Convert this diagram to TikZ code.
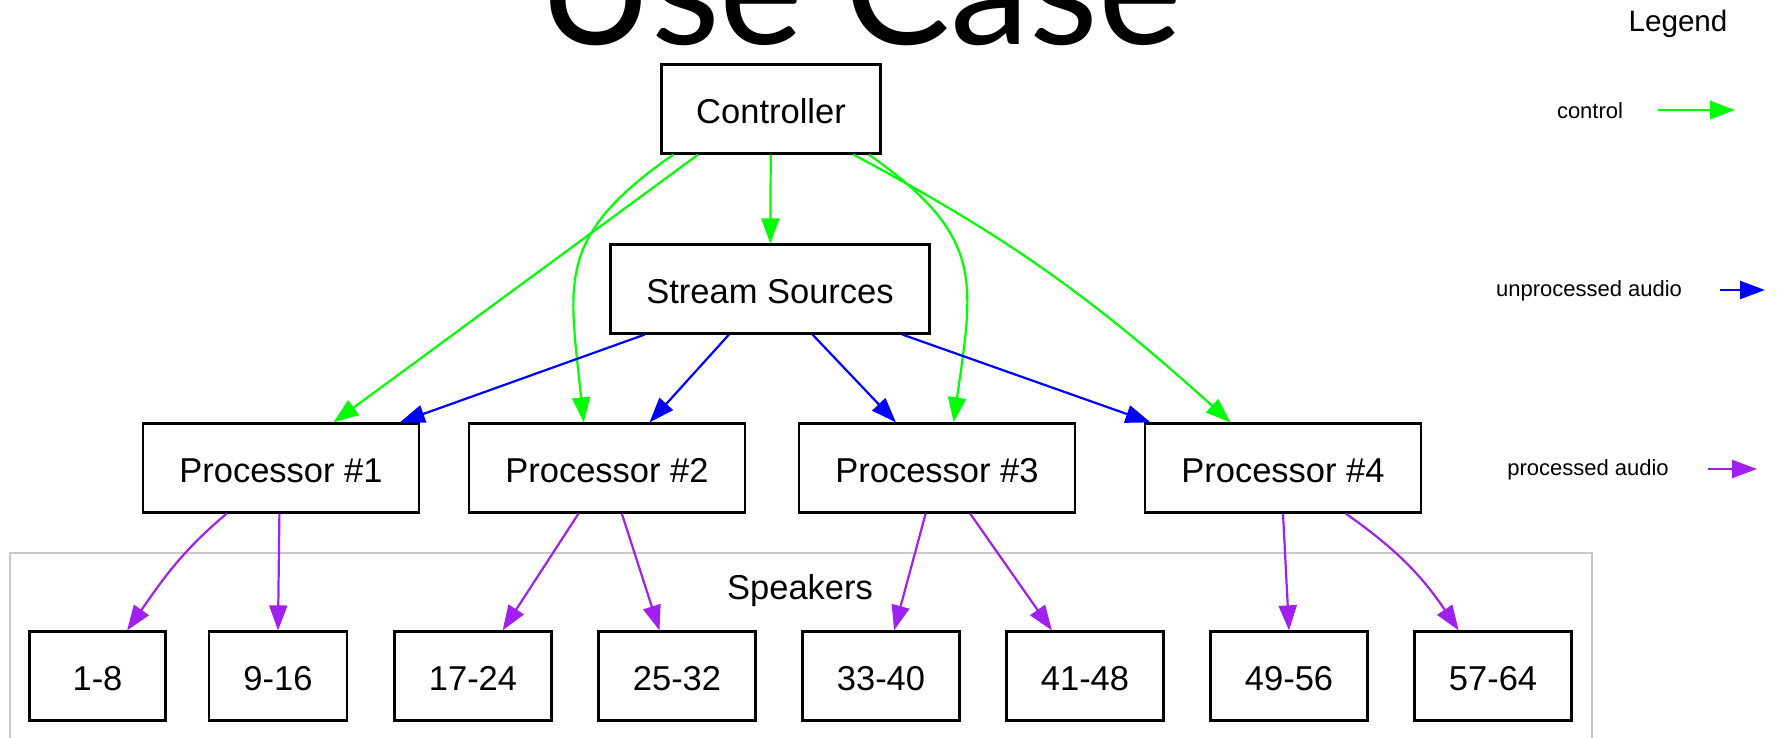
\documentclass[tikz,border=0pt]{standalone}
\usepackage{fontspec}
\setmainfont{Liberation Sans}
\newfontfamily\titlefont{Lato}
\usetikzlibrary{arrows.meta}
\definecolor{ctlgreen}{RGB}{0,255,0}
\definecolor{rawblue}{RGB}{0,0,255}
\definecolor{mixpurple}{RGB}{160,32,240}
\definecolor{clustergray}{RGB}{200,200,200}
\tikzset{
    >={Triangle[length=25pt,width=18pt]},
    usecase/.style={
        box/.append style={align=center,draw,line width=2.2pt,rectangle,inner sep=0pt,minimum height=89pt,text height=29.4pt,text depth=0pt,font=\fontsize{34.5}{40}\selectfont},
        procbox/.append style={box,minimum width=276pt},
        spkbox/.append style={box,minimum width=157pt},
        label/.append style={inner sep=0pt,text height=29.4pt,text depth=0pt,font=\fontsize{34.5}{40}\selectfont},
        legendtext/.append style={inner sep=0pt,font=\fontsize{22}{26}\selectfont},
        bigtitle/.append style={inner sep=0pt,anchor=base,font=\titlefont\fontsize{159}{165}\selectfont},
        ctledge/.append style={->,draw=ctlgreen,line width=2.2pt},
        rawedge/.append style={->,draw=rawblue,line width=2.2pt},
        mixedge/.append style={->,draw=mixpurple,line width=2.2pt},
        cluster/.append style={draw=clustergray,line width=2.3pt}
    }
}

\begin{document}
\begin{tikzpicture}[usecase,x=1pt,y=-1pt]
    \useasboundingbox (0,0) rectangle (1777,738);
    \clip (0,0) rectangle (1777,738);
    \node[bigtitle] (t) at (860,45) {Use Case};

    % sources
    \node[box,minimum width=219pt] (ctl) at (771,109) {Controller};
    \node[box,minimum width=319pt] (ss) at (770,289) {Stream Sources};

    % processors
    \node[procbox] (p1) at (281,468) {Processor \#1};
    \node[procbox] (p2) at (607,468) {Processor \#2};
    \node[procbox] (p3) at (937,468) {Processor \#3};
    \node[procbox] (p4) at (1283,468) {Processor \#4};

    % speakers
    \draw[cluster] (10,553) rectangle (1592,780);
    \node[label] (spk) at (800,585) {Speakers};
    \node[spkbox,minimum width=136pt] (s1) at (97.5,676) {1-8};
    \node[spkbox,minimum width=138pt] (s2) at (278,676) {9-16};
    \node[spkbox] (s3) at (473,676) {17-24};
    \node[spkbox] (s4) at (677,676) {25-32};
    \node[spkbox] (s5) at (881,676) {33-40};
    \node[spkbox] (s6) at (1085,676) {41-48};
    \node[spkbox] (s7) at (1289,676) {49-56};
    \node[spkbox] (s8) at (1493,676) {57-64};

    \path (ctl) edge[ctledge] (ss)
          (ctl.-148) edge[ctledge] (p1.41)
          (ctl.-155) edge[ctledge,out=-145,in=96,looseness=1.3] (p2.117)
          (ctl.-25) edge[ctledge,out=-35,in=82,looseness=1.3] (p3.70)
          (ctl.-29) edge[ctledge,out=-28,in=138] (p4.139);
    \path (ss.-160) edge[rawedge] (p1.21)
          (ss.-132) edge[rawedge] (p2.47)
          (ss.-47) edge[rawedge] (p3.132)
          (ss.-19) edge[rawedge] (p4.161);
    \path (p1.-140) edge[mixedge,out=-140,in=55] (s1.57)
          (p1.-92) edge[mixedge] (s2.north)
          (p2.-122) edge[mixedge] (s3.57)
          (p2.-72) edge[mixedge] (s4.111)
          (p3.-104) edge[mixedge] (s5.74)
          (p3.-54) edge[mixedge] (s6.126)
          (p4.south) edge[mixedge] (s7.north)
          (p4.-36) edge[mixedge,out=-35,in=124] (s8.127);

    % legend
    \node[legendtext,font=\fontsize{29.6}{34}\selectfont] (lg) at (1678,24) {Legend};
    \node[legendtext] (lctl) at (1590,111) {control};
    \node[legendtext] (lraw) at (1589,291) {unprocessed audio};
    \node[legendtext] (lmix) at (1588,470) {processed audio};
    \coordinate (lctla) at (1658,110);
    \coordinate (lctlb) at (1735,110);
    \coordinate (lrawa) at (1720,290);
    \coordinate (lrawb) at (1765,290);
    \coordinate (lmixa) at (1708,469);
    \coordinate (lmixb) at (1757,469);
    \draw[ctledge] (lctla) -- (lctlb);
    \draw[rawedge] (lrawa) -- (lrawb);
    \draw[mixedge] (lmixa) -- (lmixb);
\end{tikzpicture}
\end{document}
